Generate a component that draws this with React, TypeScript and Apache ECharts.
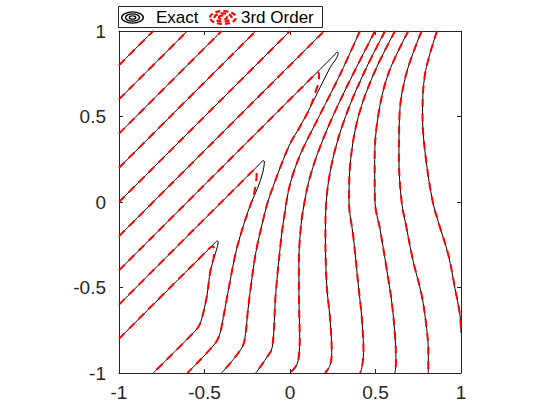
import React, { useEffect, useRef } from "react";
import * as echarts from "echarts";

// Axis ticks and labels
const xTicks = [-1, -0.5, 0, 0.5, 1];
const yTicks = [-1, -0.5, 0, 0.5, 1];
const xTickLabels = ["-1", "-0.5", "0", "0.5", "1"];
const yTickLabels = ["-1", "-0.5", "0", "0.5", "1"];
const legendLabels = ["Exact", "3rd Order"];

// Contour lines of the exact function: [x, y]
const lineD1 = [[-1, 0.8], [-0.8, 1]];
const lineD2 = [[-1, 0.6], [-0.6, 1]];
const lineD3 = [[-1, 0.4], [-0.4, 1]];
const lineD4 = [[-1, 0.2], [-0.2, 1]];
const lineD5 = [[-1, 0], [0, 1]];
const lineD6 = [[-1, -0.2], [0.2, 1]];
const spike1 = [[-1, -0.4], [0.26, 0.86], [0.275, 0.876], [0.282, 0.872], [0.234, 0.785], [0.175, 0.668], [0.117, 0.551], [0.058, 0.44], [0, 0.34], [-0.05, 0.22], [-0.095, 0.1], [-0.13, 0], [-0.16, -0.117], [-0.199, -0.292], [-0.228, -0.487], [-0.247, -0.643], [-0.26, -0.77], [-0.28, -0.85], [-0.4, -1]];
const spike2 = [[-1, -0.6], [-0.17, 0.23], [-0.158, 0.242], [-0.15, 0.238], [-0.16, 0.17], [-0.19, 0.08], [-0.225, 0], [-0.27, -0.13], [-0.316, -0.292], [-0.355, -0.487], [-0.384, -0.643], [-0.41, -0.77], [-0.44, -0.83], [-0.6, -1]];
const spike3 = [[-1, -0.8], [-0.44, -0.24], [-0.427, -0.228], [-0.42, -0.232], [-0.433, -0.29], [-0.465, -0.4], [-0.485, -0.544], [-0.51, -0.66], [-0.53, -0.72], [-0.56, -0.76], [-0.8, -1]];
const curveM02 = [[0.409, 1], [0.295, 0.75], [0.17, 0.5], [0.07, 0.3], [0.02, 0.17], [-0.01, 0.06], [-0.03, -0.06], [-0.05, -0.2], [-0.084, -0.544], [-0.104, -0.85], [-0.14, -0.915], [-0.2, -1]];
const curve00 = [[0.497, 1], [0.37, 0.75], [0.25, 0.5], [0.16, 0.28], [0.11, 0.12], [0.085, 0], [0.065, -0.13], [0.052, -0.35], [0.053, -0.6], [0.057, -0.8], [0.052, -0.9], [0.038, -0.955], [0, -1]];
const curve02 = [[0.556, 1], [0.43, 0.75], [0.325, 0.5], [0.25, 0.25], [0.212, 0], [0.207, -0.2], [0.215, -0.49], [0.234, -0.68], [0.244, -0.88], [0.234, -0.955], [0.205, -1]];
const curve04 = [[0.614, 1], [0.49, 0.75], [0.4, 0.5], [0.355, 0.25], [0.345, 0], [0.37, -0.2], [0.4, -0.49], [0.42, -0.68], [0.43, -0.88], [0.42, -0.97], [0.41, -1]];
const curve06 = [[0.692, 1], [0.575, 0.75], [0.515, 0.5], [0.495, 0.25], [0.497, 0], [0.526, -0.156], [0.565, -0.39], [0.595, -0.585], [0.614, -0.78], [0.62, -0.936], [0.614, -1]];
const curve08 = [[0.77, 1], [0.68, 0.75], [0.64, 0.5], [0.637, 0.25], [0.653, 0], [0.682, -0.154], [0.721, -0.349], [0.77, -0.544], [0.799, -0.739], [0.809, -0.875], [0.809, -1]];
const curveR = [[0.86, 1], [0.79, 0.75], [0.775, 0.5], [0.795, 0.25], [0.835, 0], [0.867, -0.115], [0.926, -0.31], [0.965, -0.505], [0.994, -0.661], [1.0, -0.766]];

// 3rd order approximation: differs only near the spike tips
const approxSpike1 = [[-1, -0.4], [0.15, 0.75], [0.162, 0.758], [0.17, 0.745], [0.168, 0.7], [0.155, 0.66], [0.117, 0.551], [0.058, 0.44], [0, 0.34], [-0.05, 0.22], [-0.095, 0.1], [-0.13, 0], [-0.16, -0.117], [-0.199, -0.292], [-0.228, -0.487], [-0.247, -0.643], [-0.26, -0.77], [-0.28, -0.85], [-0.4, -1]];
const approxSpike2 = [[-1, -0.6], [-0.215, 0.185], [-0.203, 0.19], [-0.195, 0.175], [-0.197, 0.13], [-0.21, 0.05], [-0.225, 0], [-0.27, -0.13], [-0.316, -0.292], [-0.355, -0.487], [-0.384, -0.643], [-0.41, -0.77], [-0.44, -0.83], [-0.6, -1]];
const approxSpike3 = [[-1, -0.8], [-0.465, -0.265], [-0.452, -0.26], [-0.443, -0.275], [-0.447, -0.33], [-0.465, -0.4], [-0.485, -0.544], [-0.51, -0.66], [-0.53, -0.72], [-0.56, -0.76], [-0.8, -1]];

const exactLines = [lineD1, lineD2, lineD3, lineD4, lineD5, lineD6, spike1, spike2, spike3, curveM02, curve00, curve02, curve04, curve06, curve08, curveR];
const approxLines = [lineD1, lineD2, lineD3, lineD4, lineD5, lineD6, approxSpike1, approxSpike2, approxSpike3, curveM02, curve00, curve02, curve04, curve06, curve08, curveR];

const AXIS = "#262626";
const FONT = "'Liberation Sans', Arial, Helvetica, sans-serif";

function makeAxis(pos: string, labels: string[] | null, ticks: number[]) {
  return {
    type: "value",
    position: pos,
    min: -1,
    max: 1,
    interval: 0.5,
    axisLine: { show: true, onZero: false, lineStyle: { color: AXIS, width: 1 } },
    axisTick: { show: true, inside: true, length: 4, lineStyle: { color: AXIS, width: 1 } },
    splitLine: { show: false },
    axisLabel: labels
      ? {
          show: true,
          color: AXIS,
          fontSize: 19,
          fontFamily: FONT,
          margin: pos === "bottom" ? 10 : 13,
          formatter: (v: number) => {
            const i = ticks.findIndex((t) => Math.abs(t - v) < 1e-9);
            return i >= 0 ? labels[i] : "";
          },
        }
      : { show: false },
  };
}

export default function App() {
  const ref = useRef<HTMLDivElement>(null);
  useEffect(() => {
    if (!ref.current) return;
    const chart = echarts.init(ref.current, null, { renderer: "svg" });
    const series: any[] = [];
    exactLines.forEach((d, i) => {
      series.push({
        type: "line",
        name: legendLabels[0],
        id: "exact" + i,
        data: d,
        showSymbol: false,
        smooth: 0.35,
        lineStyle: { color: "#000000", width: 1 },
        z: 2,
      });
    });
    approxLines.forEach((d, i) => {
      series.push({
        type: "line",
        name: legendLabels[1],
        id: "approx" + i,
        data: d,
        showSymbol: false,
        smooth: 0.35,
        lineStyle: { color: "#ff0000", width: 2, type: [8, 6] },
        z: 3,
      });
    });
    const ell = (cx: number, cy: number, rx: number, ry: number, style: any) => ({
      type: "ellipse",
      shape: { cx, cy, rx, ry },
      style: { fill: "none", ...style },
      silent: true,
    });
    const blackStyle = { stroke: "#000000", lineWidth: 1.4 };
    const redStyle = { stroke: "#ff0000", lineWidth: 2.2, lineDash: [5, 3] };
    chart.setOption({
      animation: false,
      backgroundColor: "#ffffff",
      grid: { left: 119, top: 31, width: 342, height: 342, containLabel: false },
      xAxis: [makeAxis("bottom", xTickLabels, xTicks), makeAxis("top", null, xTicks)],
      yAxis: [makeAxis("left", yTickLabels, yTicks), makeAxis("right", null, yTicks)],
      series,
      graphic: [
        {
          type: "group",
          children: [
            {
              type: "rect",
              shape: { x: 118.5, y: 6.5, width: 204, height: 21 },
              style: { fill: "#ffffff", stroke: AXIS, lineWidth: 1 },
            },
            ell(132.5, 17.5, 10.8, 5.6, blackStyle),
            ell(132.5, 17.5, 7, 3.6, blackStyle),
            ell(132.5, 17.5, 3.2, 1.6, blackStyle),
            {
              type: "text",
              style: { x: 156, y: 17.5, text: legendLabels[0], fontSize: 17, fontFamily: FONT, fill: "#000000", verticalAlign: "middle", align: "left" },
            },
            ell(223, 17.5, 13, 6.5, redStyle),
            ell(223, 17.5, 8.5, 4.2, redStyle),
            ell(223, 17.5, 4, 2, redStyle),
            {
              type: "text",
              style: { x: 241, y: 17.5, text: legendLabels[1], fontSize: 17, fontFamily: FONT, fill: "#000000", verticalAlign: "middle", align: "left" },
            },
          ],
        },
      ],
    });
    return () => chart.dispose();
  }, []);
  return (
    <div
      ref={ref}
      style={{ position: "fixed", left: 0, top: 0, width: 560, height: 420, background: "#fff" }}
    />
  );
}
